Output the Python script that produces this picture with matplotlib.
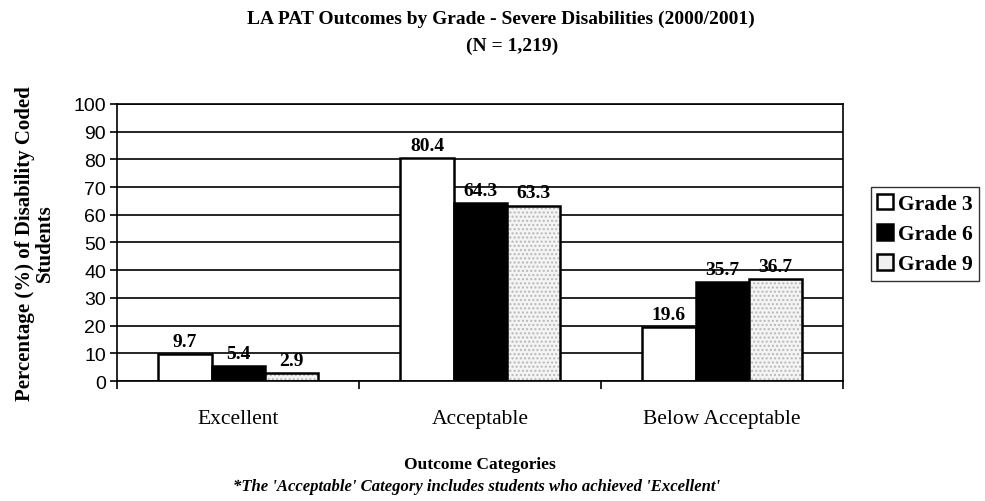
import matplotlib.pyplot as plt
import numpy as np
from matplotlib.patches import Patch

# données du graphique
categories = ["Excellent", "Acceptable", "Below Acceptable"]
grades = ["Grade 3", "Grade 6", "Grade 9"]
grade3 = [9.7, 80.4, 19.6]
grade6 = [5.4, 64.3, 35.7]
grade9 = [2.9, 63.3, 36.7]

serif = "Liberation Serif"
sans = "Liberation Sans"

fig = plt.figure(figsize=(9.85, 5.02), dpi=100)
ax = fig.add_axes([0.119, 0.239, 0.737, 0.552])

x = np.arange(len(categories))
w = 0.22

ax.set_axisbelow(True)
ax.yaxis.grid(True, color="black", lw=1.2)

b3 = ax.bar(x - w, grade3, w, color="white", edgecolor="black", lw=1.8)
b6 = ax.bar(x, grade6, w, color="black", edgecolor="black", lw=1.8)
# grade 9 : fond pointillé gris
ax.bar(x + w, grade9, w, color="#f4f4f4", edgecolor="#b8b8b8", hatch="....", lw=0)
b9 = ax.bar(x + w, grade9, w, fill=False, edgecolor="black", lw=1.8)

for bars, vals in [(b3, grade3), (b6, grade6), (b9, grade9)]:
    for r, v in zip(bars, vals):
        ax.text(r.get_x() + r.get_width() / 2, v + 1.5, f"{v:.1f}", ha="center", va="bottom",
                fontsize=14, fontweight="bold", family=serif)

ax.set_xlim(-0.5, 2.5)
ax.set_ylim(0, 100)
ax.set_yticks(range(0, 101, 10))
ax.set_yticklabels([str(v) for v in range(0, 101, 10)], family=sans, fontsize=14)
ax.set_xticks(x)
ax.set_xticklabels(categories, family=serif, fontsize=15.5)
ax.tick_params(axis="x", length=0, pad=20)
ax.set_xticks([-0.5, 0.5, 1.5, 2.5], minor=True)
ax.tick_params(axis="x", which="minor", length=6, width=1.2)
ax.tick_params(axis="y", length=5, width=1.2, pad=3)
for s in ax.spines.values():
    s.set_linewidth(1.2)

ax.set_xlabel("Outcome Categories", family=serif, fontsize=12.5, fontweight="bold", labelpad=20)
ax.set_ylabel("Percentage (%) of Disability Coded\nStudents", family=serif, fontsize=15,
              fontweight="bold", labelpad=13, linespacing=1.05)

fig.text(0.508, 0.962, "LA PAT Outcomes by Grade - Severe Disabilities (2000/2001)",
         ha="center", va="center", family=serif, fontsize=14, fontweight="bold")
fig.text(0.52, 0.908, "(N = 1,219)", ha="center", va="center", family=serif,
         fontsize=14, fontweight="bold")
fig.text(0.484, 0.03, "*The 'Acceptable' Category includes students who achieved 'Excellent'",
         ha="center", va="center", family=serif, fontsize=12, fontweight="bold", style="italic")

handles = [Patch(facecolor="white", edgecolor="black", lw=1.8),
           Patch(facecolor="black", edgecolor="black", lw=1.8),
           Patch(facecolor="#f0f0f0", edgecolor="black", lw=1.8)]
leg = fig.legend(handles, grades, loc="upper left", bbox_to_anchor=(0.884, 0.625),
                 prop={"family": serif, "weight": "bold", "size": 15.5}, frameon=True,
                 fancybox=False, edgecolor="black", handlelength=0.75, handleheight=0.75,
                 handletextpad=0.2, labelspacing=0.45, borderpad=0.3, borderaxespad=0)
leg.get_frame().set_linewidth(1.0)

fig.savefig("out.png", dpi=100)
